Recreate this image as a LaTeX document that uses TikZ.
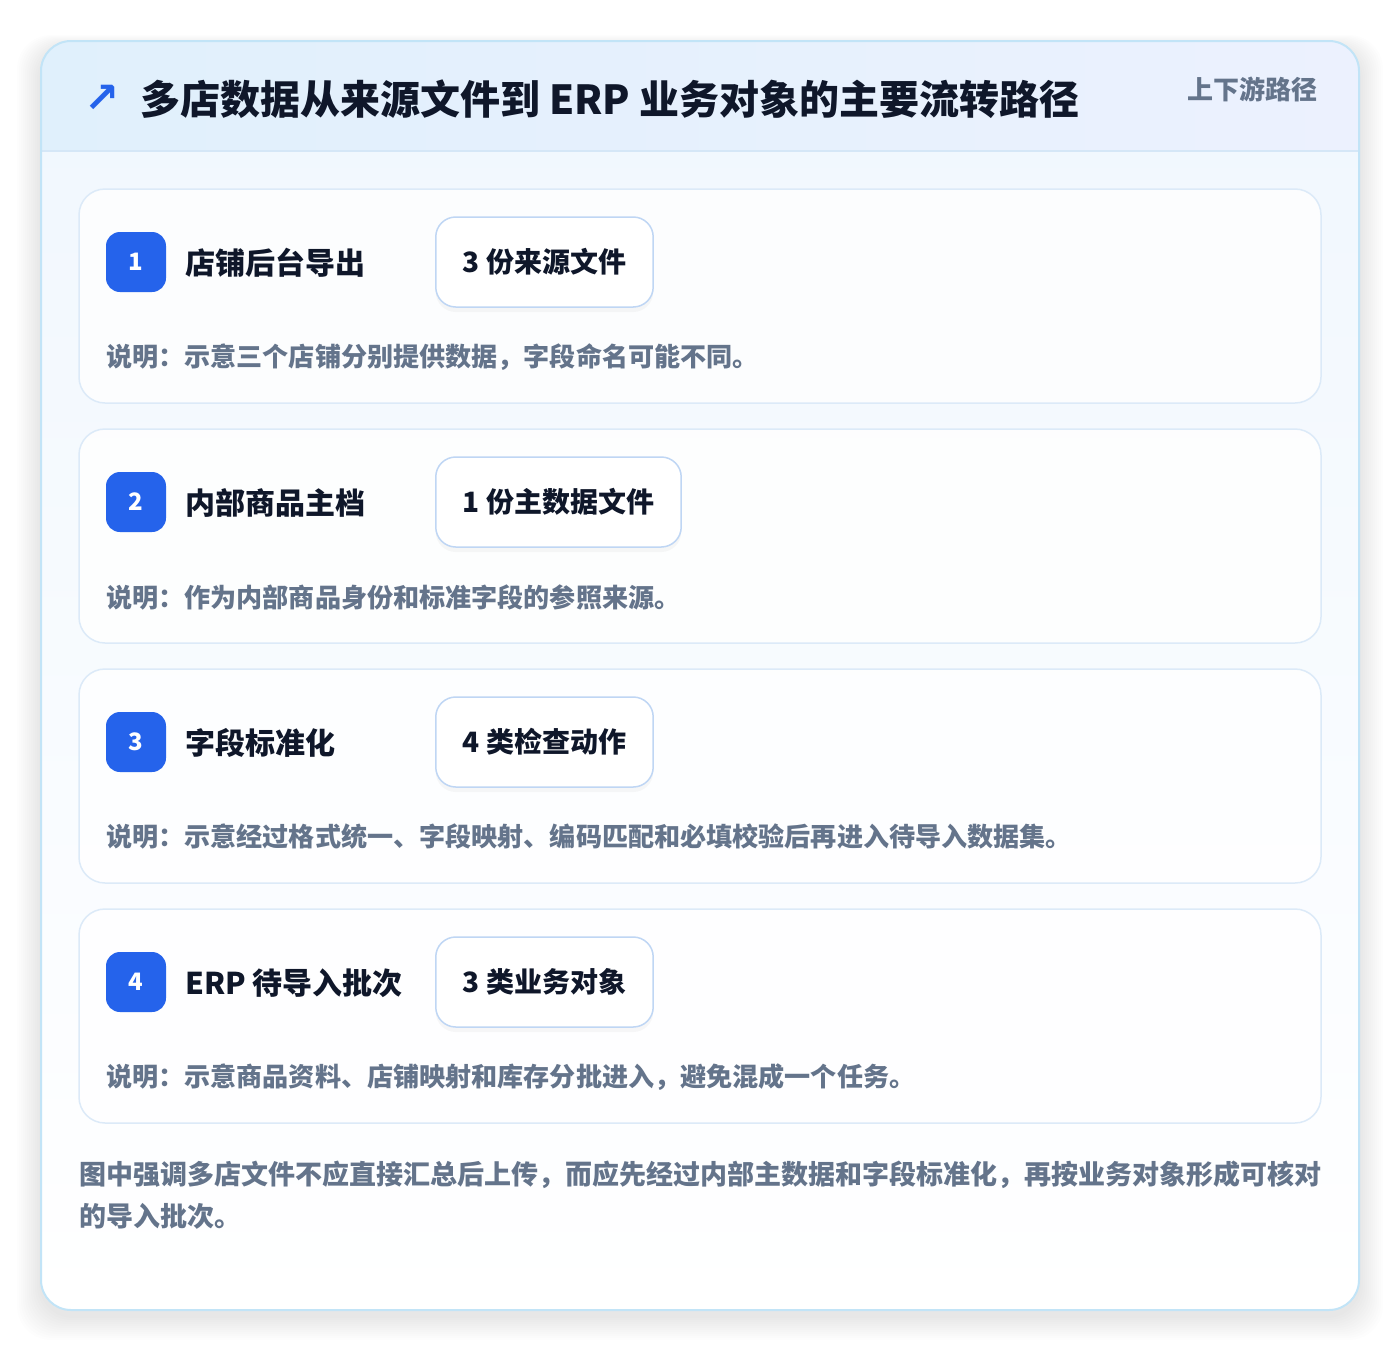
\documentclass[tikz,border=0pt]{standalone}
\usepackage{fontspec}
\setmainfont{Noto Sans CJK SC}
\newfontfamily\symfont{DejaVu Sans}
\usetikzlibrary{shadows}

\definecolor{brandblue}{HTML}{2563EB}
\definecolor{inkdark}{HTML}{0F172A}
\definecolor{slatetext}{HTML}{64748B}
\definecolor{frameline}{HTML}{C2E4F7}
\definecolor{headleft}{HTML}{E0F0FC}
\definecolor{headright}{HTML}{ECF1FE}
\definecolor{headline}{HTML}{D5E7F7}
\definecolor{bodytop}{HTML}{F0F7FE}
\definecolor{cardline}{HTML}{DCEAF8}
\definecolor{pilline}{HTML}{BFD6F4}

\tikzset{
  stepcard/.style={draw=cardline, line width=1.5pt, rounded corners=26pt, fill=white, fill opacity=0.8,
    minimum width=1242pt, minimum height=214pt},
  badge/.style={fill=brandblue, rounded corners=14pt, minimum size=60pt, inner sep=0pt, text=white,
    font=\bfseries\fontsize{24}{24}\selectfont},
  steptitle/.style={anchor=west, inner sep=0pt, text=inkdark, font=\bfseries\fontsize{30}{30}\selectfont},
  pill/.style={anchor=west, draw=pilline, line width=1.5pt, rounded corners=20pt, fill=white,
    minimum height=90pt, inner xsep=27pt, text=inkdark, font=\bfseries\fontsize{28}{28}\selectfont,
    drop shadow={opacity=0.06, shadow xshift=0pt, shadow yshift=-5pt}},
  stepnote/.style={anchor=west, inner sep=0pt, text=slatetext, font=\bfseries\fontsize{26.1}{26.1}\selectfont}
}

\begin{document}
\begin{tikzpicture}[x=1pt,y=-1pt]
    \useasboundingbox (0,0) rectangle (1400,1352);

    % soft shadow under the frame
    \foreach \k in {1,...,12}
        \fill[black, opacity=0.009, rounded corners=34pt] (41-2*\k,41+6-\k) rectangle (1359+2*\k,1310+6+2*\k);

    % frame and header
    \shade[top color=bodytop, bottom color=white, rounded corners=30pt] (41,41) rectangle (1359,1310);
    \begin{scope}
        \clip[rounded corners=30pt] (41,41) rectangle (1359,1310);
        \shade[left color=headleft, right color=headright] (41,41) rectangle (1359,151);
    \end{scope}
    \draw[headline, line width=1.5pt] (41,151) -- (1359,151);
    \draw[frameline, line width=2pt, rounded corners=30pt] (41,41) rectangle (1359,1310);

    \node[text=brandblue, font=\symfont\bfseries\fontsize{42}{42}\selectfont] (icon) at (102,99) {↗};
    \node[anchor=west, inner sep=0pt, text=inkdark, font=\bfseries\fontsize{40}{40}\selectfont] (heading) at (140,99)
        {多店数据从来源文件到 ERP 业务对象的主要流转路径};
    \node[anchor=east, inner sep=0pt, text=slatetext, font=\bfseries\fontsize{26}{26}\selectfont] (tag) at (1318,89)
        {上下游路径};

    % step 1
    \node[stepcard] (card1) at (700,296) {};
    \node[badge] (badge1) at (136,262) {1};
    \node[steptitle] (title1) at (185,263) {店铺后台导出};
    \node[pill] (pill1) at (435,262) {3 份来源文件};
    \node[stepnote] (note1) at (106,357) {说明：示意三个店铺分别提供数据，字段命名可能不同。};

    % step 2
    \node[stepcard] (card2) at (700,536) {};
    \node[badge] (badge2) at (136,502) {2};
    \node[steptitle] (title2) at (185,503) {内部商品主档};
    \node[pill] (pill2) at (435,502) {1 份主数据文件};
    \node[stepnote] (note2) at (106,597) {说明：作为内部商品身份和标准字段的参照来源。};

    % step 3
    \node[stepcard] (card3) at (700,776) {};
    \node[badge] (badge3) at (136,742) {3};
    \node[steptitle] (title3) at (185,743) {字段标准化};
    \node[pill] (pill3) at (435,742) {4 类检查动作};
    \node[stepnote] (note3) at (106,837) {说明：示意经过格式统一、字段映射、编码匹配和必填校验后再进入待导入数据集。};

    % step 4
    \node[stepcard] (card4) at (700,1016) {};
    \node[badge] (badge4) at (136,982) {4};
    \node[steptitle] (title4) at (185,983) {ERP 待导入批次};
    \node[pill] (pill4) at (435,982) {3 类业务对象};
    \node[stepnote] (note4) at (106,1077) {说明：示意商品资料、店铺映射和库存分批进入，避免混成一个任务。};

    \node[anchor=north west, inner sep=0pt, align=left, text=slatetext, font=\bfseries\fontsize{27}{42}\selectfont] (summary) at (79,1161)
        {图中强调多店文件不应直接汇总后上传，而应先经过内部主数据和字段标准化，再按业务对象形成可核对\\的导入批次。};
\end{tikzpicture}
\end{document}
